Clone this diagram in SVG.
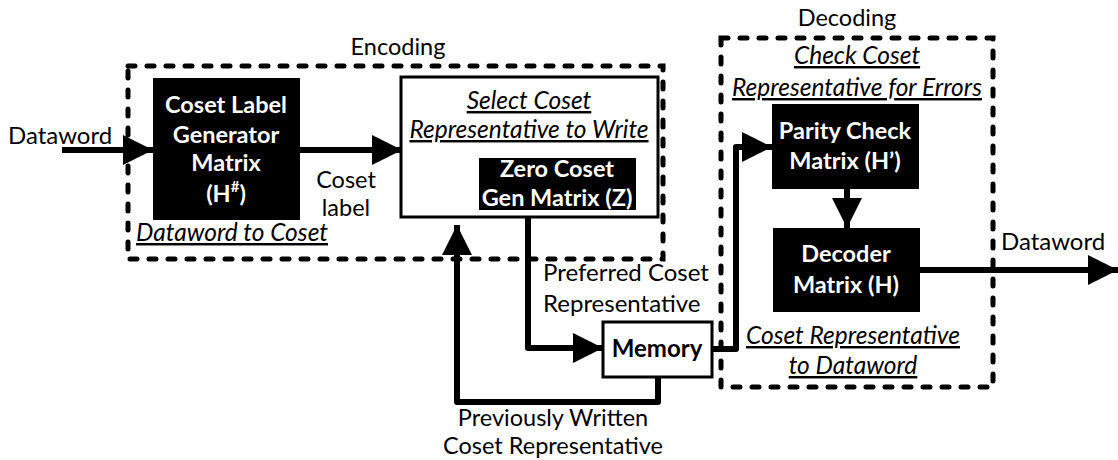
<svg xmlns="http://www.w3.org/2000/svg" width="1118" height="460" viewBox="0 0 1118 460">
  <style>
    text { font-family: Lato, "Open Sans", "Liberation Sans", sans-serif; fill: #000; }
    .lbl { font-size: 24px; }
    .ttl { font-size: 23.5px; text-anchor: middle; }
    .blk { font-size: 23.5px; font-weight: bold; fill: #fff; text-anchor: middle; }
    .mem { font-size: 24px; font-weight: bold; text-anchor: middle; }
    .it { font-size: 24.5px; font-style: italic; text-decoration: underline; text-anchor: middle; }
    .grp { fill: none; stroke: #000; stroke-width: 5; stroke-dasharray: 7 12; stroke-linecap: round; }
    .wire { fill: none; stroke: #000; stroke-width: 6; stroke-linejoin: round; }
    .dark { fill: #000; }
  </style>
  <defs>
    <marker id="arrow" viewBox="0 0 10 10" refX="10" refY="5" markerWidth="5" markerHeight="5" markerUnits="strokeWidth" orient="auto">
      <path d="M0,0 L10,5 L0,10 Z" fill="#000"/>
    </marker>
  </defs>

  <!-- grouping frames -->
  <g id="encoding-frame">
    <rect class="grp" x="128" y="66" width="535" height="193"/>
    <text class="ttl" x="398" y="55">Encoding</text>
  </g>
  <g id="decoding-frame">
    <rect class="grp" x="721" y="38" width="272" height="349"/>
    <text class="ttl" x="847" y="26">Decoding</text>
  </g>

  <!-- connectors -->
  <g id="connectors">
    <path class="wire" d="M62,150 H153" marker-end="url(#arrow)"/>
    <path class="wire" d="M300,150 H402" marker-end="url(#arrow)"/>
    <path class="wire" d="M528,210 V348 H603" marker-end="url(#arrow)"/>
    <path class="wire" d="M658,377 V402 H457 V225" marker-end="url(#arrow)"/>
    <path class="wire" d="M712,349 H736 V147 H772" marker-end="url(#arrow)"/>
    <path class="wire" d="M847,189 V228" marker-end="url(#arrow)"/>
    <path class="wire" d="M920,270 H1118" marker-end="url(#arrow)"/>
  </g>

  <!-- free labels -->
  <g id="labels">
    <text class="lbl" x="8" y="144">Dataword</text>
    <text class="ttl" x="346" y="188">Coset</text>
    <text class="ttl" x="346" y="216">label</text>
    <text class="it" x="232" y="241">Dataword to Coset</text>
    <text class="lbl" x="543" y="281">Preferred Coset</text>
    <text class="lbl" x="543" y="312">Representative</text>
    <text class="ttl" x="553" y="426">Previously Written</text>
    <text class="ttl" x="553" y="454">Coset Representative</text>
    <text class="lbl" x="1001" y="250">Dataword</text>
    <text class="it" x="857" y="64">Check Coset</text>
    <text class="it" x="857" y="96">Representative for Errors</text>
    <text class="it" x="853" y="344">Coset Representative</text>
    <text class="it" x="853" y="374">to Dataword</text>
  </g>

  <g id="coset-label-generator">
    <rect class="dark" x="153" y="78" width="147" height="142"/>
    <text class="blk" x="226" y="113">Coset Label</text>
    <text class="blk" x="226" y="143">Generator</text>
    <text class="blk" x="226" y="171">Matrix</text>
    <text class="blk" x="226" y="202">(H<tspan font-size="15" dy="-10">#</tspan><tspan dy="10">)</tspan></text>
  </g>

  <g id="select-coset">
    <rect x="401" y="77" width="257" height="140" fill="#fff" stroke="#000" stroke-width="3"/>
    <text class="it" x="529" y="109">Select Coset</text>
    <text class="it" x="529" y="138">Representative to Write</text>
  </g>

  <g id="zero-coset">
    <rect class="dark" x="479" y="158" width="157" height="52"/>
    <text class="blk" x="557" y="177" font-size="20">Zero Coset</text>
    <text class="blk" x="557" y="206" font-size="20">Gen Matrix (Z)</text>
  </g>

  <g id="memory">
    <rect x="603" y="322" width="109" height="55" fill="#fff" stroke="#000" stroke-width="3"/>
    <text class="mem" x="657" y="357">Memory</text>
  </g>

  <g id="parity-check">
    <rect class="dark" x="772" y="104" width="147" height="85"/>
    <text class="blk" x="845" y="139">Parity Check</text>
    <text class="blk" x="845" y="169">Matrix (H’)</text>
  </g>

  <g id="decoder">
    <rect class="dark" x="773" y="228" width="147" height="84"/>
    <text class="blk" x="846" y="262">Decoder</text>
    <text class="blk" x="846" y="293">Matrix (H)</text>
  </g>
</svg>
